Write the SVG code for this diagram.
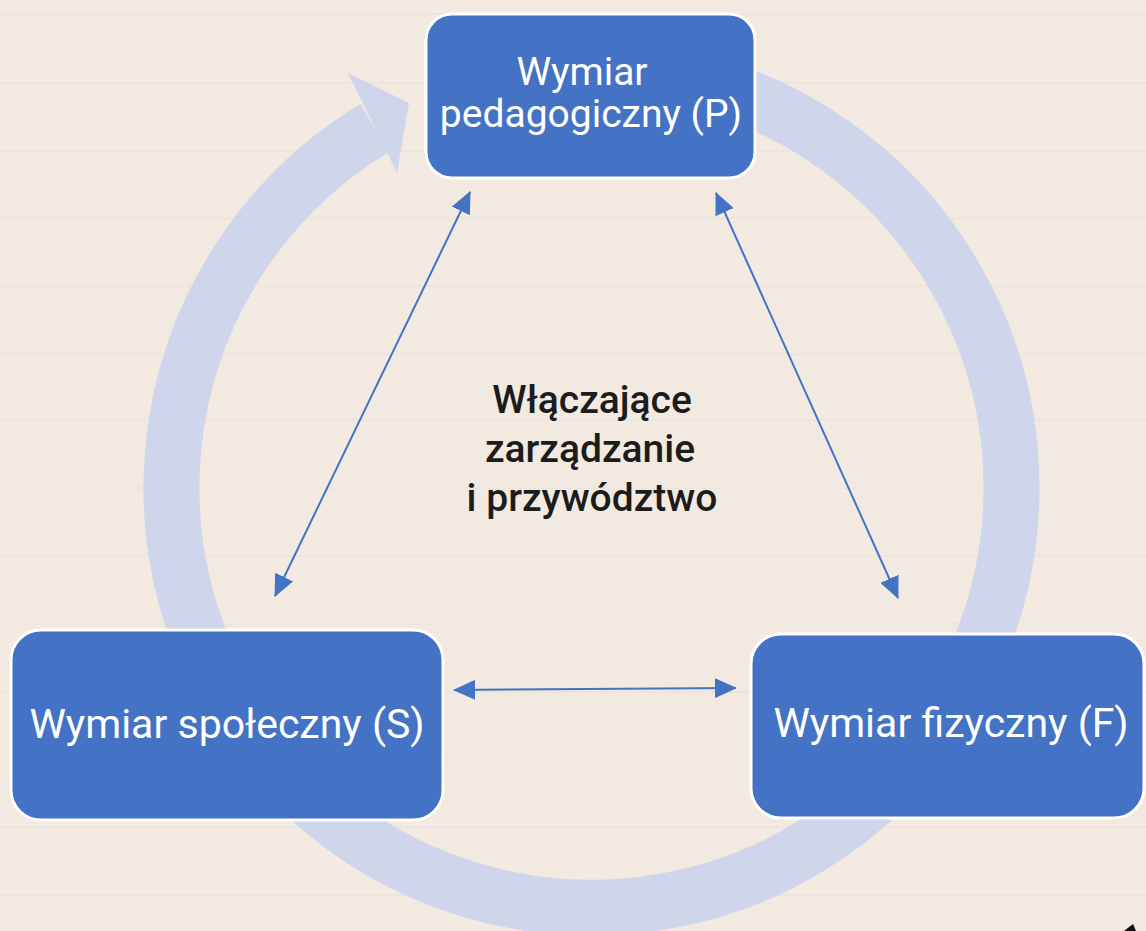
<svg xmlns="http://www.w3.org/2000/svg" width="1146" height="931" viewBox="0 0 1146 931">
  <style>
    .rule { stroke: #E4E0DA; stroke-width: 1.2; }
    .box { fill: #4472C4; stroke: #FFFFFF; stroke-width: 3; }
    .lbl { font-family: Roboto, "Liberation Sans", sans-serif; fill: #FFFFFF; text-anchor: middle; }
    .mid { font-family: Roboto, "Liberation Sans", sans-serif; fill: #1C1C1C; font-weight: 500; font-size: 39px; text-anchor: middle; }
    .conn { stroke: #4472C4; stroke-width: 2; fill: none; marker-start: url(#ah); marker-end: url(#ah); }
  </style>
  <defs>
    <marker id="ah" viewBox="0 0 22 20" refX="21" refY="10" markerWidth="22" markerHeight="20" markerUnits="userSpaceOnUse" orient="auto-start-reverse">
      <path d="M0,0 L22,10 L0,20 z" fill="#4472C4"/>
    </marker>
  </defs>
  <rect x="0" y="0" width="1146" height="931" fill="#F2EAE0"/>
  <g id="rules">
    <line class="rule" x1="0" y1="14" x2="1146" y2="14"/>
    <line class="rule" x1="0" y1="83" x2="1146" y2="83"/>
    <line class="rule" x1="0" y1="151" x2="1146" y2="151"/>
    <line class="rule" x1="0" y1="218" x2="1146" y2="218"/>
    <line class="rule" x1="0" y1="286" x2="1146" y2="286"/>
    <line class="rule" x1="0" y1="354" x2="1146" y2="354"/>
    <line class="rule" x1="0" y1="420" x2="1146" y2="420"/>
    <line class="rule" x1="0" y1="488" x2="1146" y2="488"/>
    <line class="rule" x1="0" y1="556" x2="1146" y2="556"/>
    <line class="rule" x1="0" y1="624" x2="1146" y2="624"/>
    <line class="rule" x1="0" y1="692" x2="1146" y2="692"/>
    <line class="rule" x1="0" y1="760" x2="1146" y2="760"/>
    <line class="rule" x1="0" y1="827" x2="1146" y2="827"/>
    <line class="rule" x1="0" y1="895" x2="1146" y2="895"/>
  </g>
  <g id="cycle">
    <path d="M664,74 A420,420 0 1 1 374.7,128" fill="none" stroke="#CFD6EC" stroke-width="56"/>
    <polygon points="348,73 409,103 397,173" fill="#CFD6EC"/>
  </g>
  <g id="node-P">
    <rect class="box" x="426" y="14" width="329" height="164" rx="26"/>
    <text class="lbl" font-size="39" x="582" y="85">Wymiar</text>
    <text class="lbl" font-size="39" x="591" y="127">pedagogiczny (P)</text>
  </g>
  <g id="node-S">
    <rect class="box" x="11" y="630" width="432" height="190" rx="30"/>
    <text class="lbl" font-size="41" x="227" y="738">Wymiar społeczny (S)</text>
  </g>
  <g id="node-F">
    <rect class="box" x="751" y="634" width="393" height="184" rx="30"/>
    <text class="lbl" font-size="41" x="951" y="737">Wymiar fizyczny (F)</text>
  </g>
  <g id="center-label">
    <text class="mid" x="592" y="413">Włączające</text>
    <text class="mid" x="590" y="462">zarządzanie</text>
    <text class="mid" x="592" y="511">i przywództwo</text>
  </g>
  <g id="connectors">
    <line class="conn" x1="470" y1="192" x2="275" y2="596"/>
    <line class="conn" x1="716" y1="193" x2="898" y2="598"/>
    <line class="conn" x1="454" y1="690" x2="736" y2="688"/>
  </g>
  <polygon points="1133,924 1124,931 1136,931" fill="#111111"/>
</svg>
